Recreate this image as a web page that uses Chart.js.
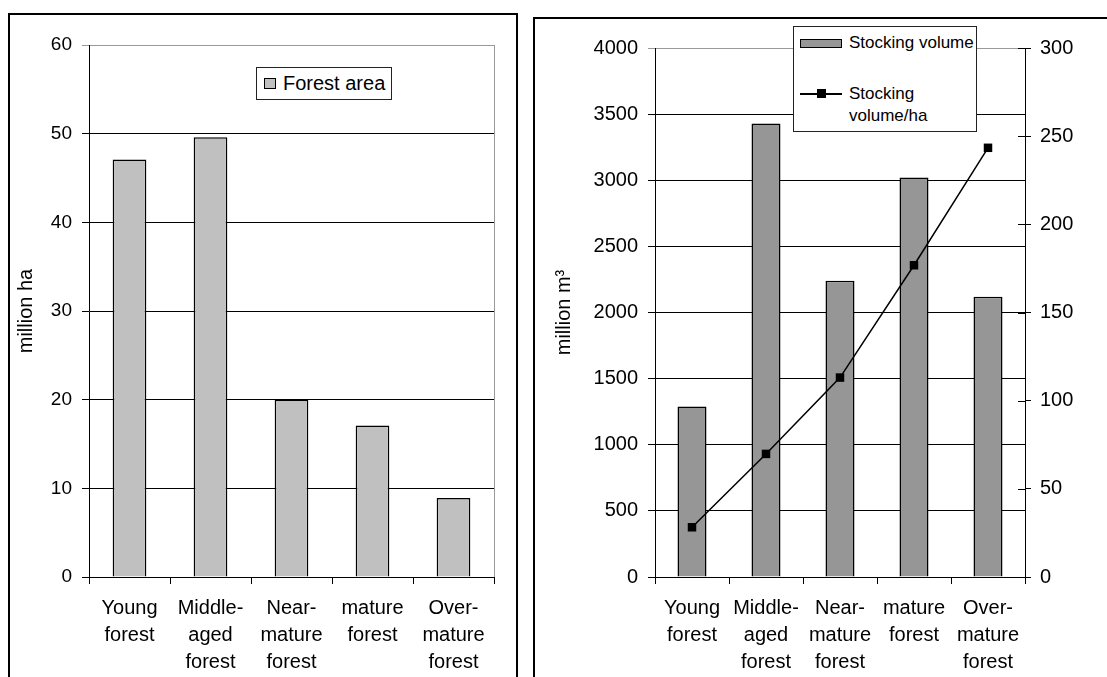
<!DOCTYPE html>
<html>
<head>
<meta charset="utf-8">
<script src="https://cdn.jsdelivr.net/npm/chart.js@4.4.1/dist/chart.umd.min.js"></script>
<style>
  body { margin: 0; width: 1107px; height: 677px; overflow: hidden; background: #fff; position: relative; font-family: 'Liberation Sans', Arial, sans-serif; }
  .box { position: absolute; box-sizing: border-box; border: 2px solid #000; background: #fff; }
  .box canvas { position: absolute; left: 0; top: 0; }
  .legend { position: absolute; box-sizing: border-box; border: 1px solid #222; background: #fff; color: #000; }
  .legend .item { position: absolute; display: flex; align-items: center; }
  .swatch { box-sizing: border-box; border: 1px solid #000; }
</style>
</head>
<body>
<div class="box" style="left:8px; top:13px; width:510px; height:700px;">
  <canvas id="areaChart" width="506" height="662"></canvas>
</div>
<div class="box" style="left:533px; top:17px; width:600px; height:700px; border-right:none; border-bottom:none;">
  <canvas id="volumeChart" width="572" height="658"></canvas>
</div>
<div id="areaLegend" class="legend" style="left:256px; top:67px; width:136px; height:33px;"></div>
<div id="volumeLegend" class="legend" style="left:793px; top:26px; width:184px; height:106px;"></div>

<script>
// age groups
const categories = [
    ['Young', 'forest'],
    ['Middle-', 'aged', 'forest'],
    ['Near-', 'mature', 'forest'],
    ['mature', 'forest'],
    ['Over-', 'mature', 'forest']
];

// million ha
const forestArea = [47.1, 49.6, 20.0, 17.1, 8.9];

// million m3
const stockingVolume = [1290, 3430, 2240, 3020, 2120];

// m3 per ha
const stockingPerHa = [28.2, 69.8, 113.1, 176.8, 243.4];

const areaAxis = { min: 0, max: 60, step: 10 };
const volumeAxis = { min: 0, max: 4000, step: 500 };
const perHaAxis = { min: 0, max: 300, step: 50 };

Chart.defaults.font.family = "'Liberation Sans', Arial, sans-serif";
Chart.defaults.color = '#000';

// grey line along the right edge of the plot area
const plotFrame = {
    id: 'plotFrame',
    beforeDatasetsDraw(chart, args, opts) {
        if (!opts.color) return;
        const { ctx, chartArea } = chart;
        ctx.save();
        ctx.strokeStyle = opts.color;
        ctx.lineWidth = 1;
        ctx.beginPath();
        ctx.moveTo(chartArea.right + 0.5, chartArea.top);
        ctx.lineTo(chartArea.right + 0.5, chartArea.bottom);
        ctx.stroke();
        ctx.restore();
    }
};

// tick marks of the right axis also cross into the plot
const innerTicks = {
    id: 'innerTicks',
    afterDraw(chart) {
        const scale = chart.scales.y2;
        if (!scale) return;
        const ctx = chart.ctx;
        ctx.save();
        ctx.strokeStyle = '#000';
        ctx.lineWidth = 1;
        scale.ticks.forEach(t => {
            const y = Math.round(scale.getPixelForValue(t.value)) + 0.5;
            ctx.beginPath();
            ctx.moveTo(scale.left - 7, y);
            ctx.lineTo(scale.left, y);
            ctx.stroke();
        });
        ctx.restore();
    }
};

function gridColor(topValue) {
    return c => (c.tick && c.tick.value === topValue) ? '#999' : '#000';
}

// plain numbers, no thousands separator
const plainNumber = v => String(v);

function xScale() {
    return {
        afterFit: s => { s.height = 100; },
        grid: { drawOnChartArea: false, tickLength: 7, color: '#000' },
        border: { color: '#000' },
        ticks: { autoSkip: false, maxRotation: 0, padding: 11, font: { size: 20, lineHeight: '27px' } }
    };
}

function areaChart() {
    const canvas = document.getElementById('areaChart');
    if (!canvas) return;

    new Chart(canvas, {
        type: 'bar',
        data: {
            labels: categories,
            datasets: [{
                label: 'Forest area',
                data: forestArea,
                backgroundColor: '#c0c0c0',
                borderColor: '#000',
                borderWidth: 1.5,
                categoryPercentage: 1,
                barPercentage: 0.416
            }]
        },
        options: {
            responsive: false,
            animation: false,
            devicePixelRatio: 1,
            layout: { padding: { left: 0, top: 30, right: 22, bottom: 0 } },
            plugins: {
                legend: { display: false },
                tooltip: { enabled: false },
                plotFrame: { color: '#999' }
            },
            scales: {
                x: xScale(),
                y: {
                    min: areaAxis.min,
                    max: areaAxis.max,
                    afterFit: s => { s.width = 79; },
                    grid: { color: gridColor(areaAxis.max), tickLength: 7 },
                    border: { color: '#000' },
                    ticks: { stepSize: areaAxis.step, padding: 10, font: { size: 19 }, callback: plainNumber },
                    title: { display: true, text: 'million ha', font: { size: 20 }, padding: { top: 4, bottom: 4 } }
                }
            }
        },
        plugins: [plotFrame]
    });

    const legend = document.getElementById('areaLegend');
    legend.innerHTML =
        '<div class="item" style="left:7px; top:0; height:31px;">' +
        '<div class="swatch" style="width:12px; height:11px; background:#c0c0c0;"></div>' +
        '<span style="margin-left:7px; font-size:20px;">Forest area</span></div>';
}

function volumeChart() {
    const canvas = document.getElementById('volumeChart');
    if (!canvas) return;

    new Chart(canvas, {
        type: 'bar',
        data: {
            labels: categories,
            datasets: [{
                type: 'line',
                label: 'Stocking volume/ha',
                data: stockingPerHa,
                yAxisID: 'y2',
                borderColor: '#000',
                backgroundColor: '#000',
                borderWidth: 1.5,
                pointStyle: 'rect',
                pointRadius: 6,
                pointBorderWidth: 0,
                tension: 0,
                order: 1
            }, {
                label: 'Stocking volume',
                data: stockingVolume,
                yAxisID: 'y',
                backgroundColor: '#969696',
                borderColor: '#000',
                borderWidth: 1.5,
                categoryPercentage: 1,
                barPercentage: 0.392,
                order: 2
            }]
        },
        options: {
            responsive: false,
            animation: false,
            devicePixelRatio: 1,
            layout: { padding: { left: 13, top: 29, right: 0, bottom: 0 } },
            plugins: {
                legend: { display: false },
                tooltip: { enabled: false }
            },
            scales: {
                x: xScale(),
                y: {
                    position: 'left',
                    min: volumeAxis.min,
                    max: volumeAxis.max,
                    afterFit: s => { s.width = 107; },
                    grid: { color: gridColor(volumeAxis.max), tickLength: 7 },
                    border: { color: '#000' },
                    ticks: { stepSize: volumeAxis.step, padding: 10, font: { size: 20 }, callback: plainNumber },
                    title: { display: true, text: 'million m\u00B3', font: { size: 20 }, padding: { top: 4, bottom: 4 } }
                },
                y2: {
                    position: 'right',
                    min: perHaAxis.min,
                    max: perHaAxis.max,
                    afterFit: s => { s.width = 82; },
                    grid: { drawOnChartArea: false, tickLength: 6, color: '#000' },
                    border: { color: '#000' },
                    ticks: { stepSize: perHaAxis.step, padding: 9, font: { size: 20 }, callback: plainNumber }
                }
            }
        },
        plugins: [innerTicks]
    });

    const legend = document.getElementById('volumeLegend');
    legend.innerHTML =
        '<div class="item" style="left:6px; top:4px; height:24px;">' +
        '<div class="swatch" style="width:42px; height:9px; background:#969696;"></div>' +
        '<span style="margin-left:7px; font-size:17px; white-space:nowrap;">Stocking volume</span></div>' +
        '<div class="item" style="left:6px; top:56px; align-items:flex-start;">' +
        '<div style="position:relative; width:42px; height:22px;">' +
        '<div style="position:absolute; left:0; top:10px; width:42px; height:1.5px; background:#000;"></div>' +
        '<div style="position:absolute; left:17px; top:6px; width:9px; height:9px; background:#000;"></div></div>' +
        '<span style="margin-left:7px; font-size:17px; line-height:22px; width:125px;">Stocking volume/ha</span></div>';
}

document.addEventListener('DOMContentLoaded', () => {
    areaChart();
    volumeChart();
});
</script>
</body>
</html>
